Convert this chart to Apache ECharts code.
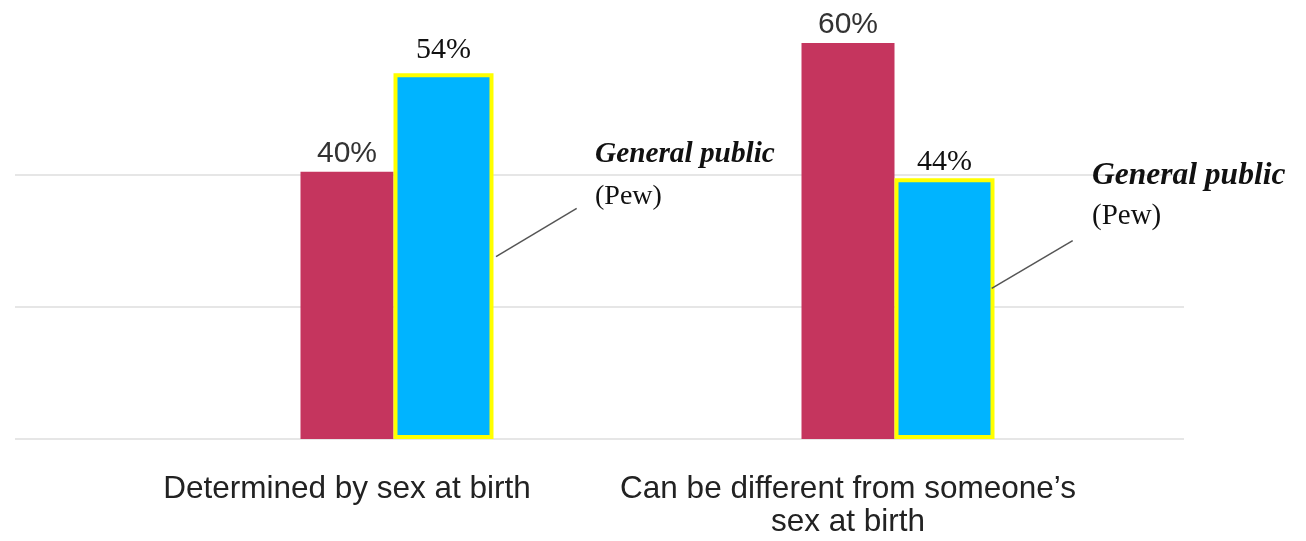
<!DOCTYPE html>
<html>
<head>
<meta charset="utf-8">
<script src="https://cdn.jsdelivr.net/npm/echarts@6/dist/echarts.min.js"></script>
<style>html,body{margin:0;padding:0;background:#fff}#c{width:1306px;height:541px}</style>
</head>
<body>
<div id="c"></div>
<script>
// Data
var categories = ['Determined by sex at birth', 'Can be different from someone\u2019s\nsex at birth'];
var respondentsValues = [40.5, 60];          // red bars (bar heights)
var respondentsLabels = ['40%', '60%'];
var publicValues = [55.4, 39.5];             // blue bars (bar heights as drawn)
var publicLabels = ['54%', '44%'];
var yTicks = [0, 20, 40];

var chart = echarts.init(document.getElementById('c'), null, {renderer: 'canvas'});
var sans = '"Liberation Sans", Arial, sans-serif';
var serif = '"Liberation Serif", "Times New Roman", serif';
var publicLabelDistance = [8, 1];

chart.setOption({
  animation: false,
  backgroundColor: '#ffffff',
  grid: [
    {left: 15, right: 122, top: 43, bottom: 102},
    {left: 96.5, right: 207.5, top: 43, bottom: 102}
  ],
  xAxis: [
    {gridIndex: 0, type: 'category', data: categories, show: false},
    {gridIndex: 1, type: 'category', data: categories,
     axisLine: {show: false}, axisTick: {show: false},
     axisLabel: {interval: 0, margin: 34, fontFamily: sans, fontSize: 31.5, color: '#222', lineHeight: 33}}
  ],
  yAxis: [
    {gridIndex: 0, type: 'value', min: 0, max: 60, interval: 20,
     axisLine: {show: false}, axisTick: {show: false}, axisLabel: {show: false},
     splitLine: {show: true, showMaxLine: false, lineStyle: {color: '#e6e6e6', width: 2}}},
    {gridIndex: 1, type: 'value', min: 0, max: 60, interval: 20, show: false,
     splitLine: {show: false}}
  ],
  series: [
    {type: 'bar', xAxisIndex: 1, yAxisIndex: 1, data: ['-', '-'], barWidth: 100, barGap: 0},
    {type: 'bar', xAxisIndex: 1, yAxisIndex: 1, data: respondentsValues, barWidth: 93, barGap: 0,
     itemStyle: {color: '#c5355e'},
     label: {show: true, position: 'top', distance: 3, fontFamily: sans, fontSize: 30, color: '#333',
             formatter: function (p) { return respondentsLabels[p.dataIndex]; }}},
    {type: 'bar', xAxisIndex: 1, yAxisIndex: 1, barWidth: 100, barGap: 0,
     data: publicValues.map(function (v, i) {
       return {value: v, label: {distance: publicLabelDistance[i]}};
     }),
     itemStyle: {color: '#00b4ff', borderColor: '#ffff00', borderWidth: 4},
     label: {show: true, position: 'top', fontFamily: serif, fontSize: 30, color: '#111',
             formatter: function (p) { return publicLabels[p.dataIndex]; }}}
  ],
  graphic: [
    {type: 'text', z: 100, left: 595, top: 140, style: {text: 'General public', font: 'italic bold 29.3px ' + serif, fill: '#111'}},
    {type: 'text', z: 100, left: 595, top: 183, style: {text: '(Pew)', font: '28px ' + serif, fill: '#111'}},
    {type: 'line', z: 100, shape: {x1: 576.7, y1: 208.3, x2: 496, y2: 256.7}, style: {stroke: '#555', lineWidth: 1.5}},
    {type: 'text', z: 100, left: 1092, top: 160, style: {text: 'General public', font: 'italic bold 31.5px ' + serif, fill: '#111'}},
    {type: 'text', z: 100, left: 1092, top: 202, style: {text: '(Pew)', font: '29px ' + serif, fill: '#111'}},
    {type: 'line', z: 100, shape: {x1: 1072.7, y1: 240.7, x2: 991.7, y2: 288.3}, style: {stroke: '#555', lineWidth: 1.5}}
  ]
});
</script>
</body>
</html>
